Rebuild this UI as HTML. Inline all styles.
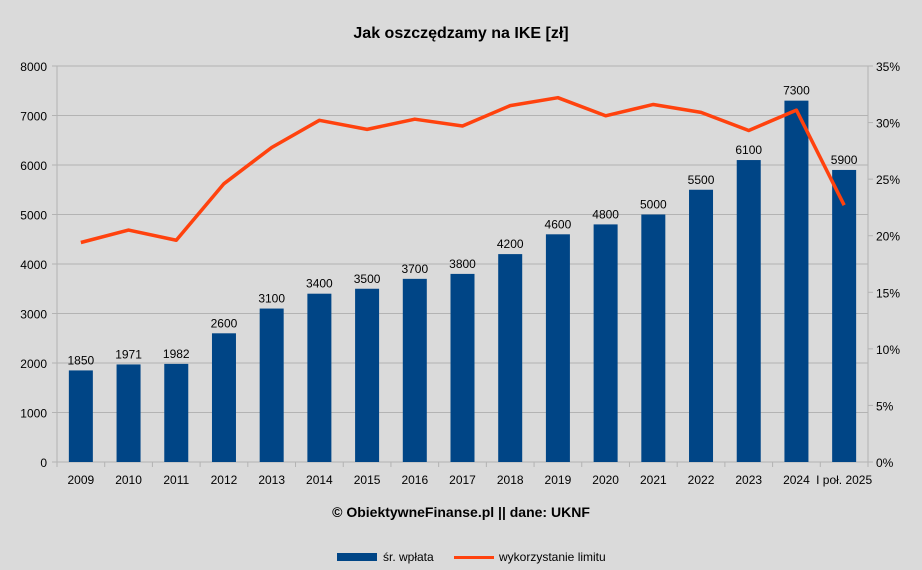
<!DOCTYPE html>
<html><head><meta charset="utf-8"><style>
body{margin:0;background:#dadada;}
svg{display:block;font-family:"Liberation Sans",sans-serif;}
</style></head><body>
<svg id="c" width="922" height="570" viewBox="0 0 922 570">
<rect width="922" height="570" fill="#dadada"/>
<text x="461" y="38" text-anchor="middle" font-size="16" font-weight="bold" fill="#000">Jak oszczędzamy na IKE [zł]</text>
<g id="grid"></g><g id="bars"></g><g id="line"></g><g id="axes"></g>
<text x="461" y="517" text-anchor="middle" font-size="14" font-weight="bold" fill="#000">© ObiektywneFinanse.pl || dane: UKNF</text>
<g>
<rect x="337" y="553" width="40" height="8" fill="#004586"/>
<text x="383" y="561" font-size="12">śr. wpłata</text>
<rect x="454" y="556" width="40" height="3" fill="#ff420e"/>
<text x="499" y="561" font-size="12">wykorzystanie limitu</text>
</g>
</svg>
<script>
const categories=["2009","2010","2011","2012","2013","2014","2015","2016","2017","2018","2019","2020","2021","2022","2023","2024","I poł. 2025"];
const payments=[1850,1971,1982,2600,3100,3400,3500,3700,3800,4200,4600,4800,5000,5500,6100,7300,5900];
const limitUse=[19.4,20.5,19.6,24.6,27.8,30.2,29.4,30.3,29.7,31.5,32.2,30.6,31.6,30.9,29.3,31.1,22.7];
const leftTicks=[0,1000,2000,3000,4000,5000,6000,7000,8000];
const rightTicks=[0,5,10,15,20,25,30,35];
const NS="http://www.w3.org/2000/svg";
const L=57,R=868,T=66,B=462;
const n=categories.length, step=(R-L)/n;
const xc=i=>L+step*(i+0.5);
const yL=v=>B-(v/8000)*(B-T);
const yR=v=>B-(v/35)*(B-T);
function mk(tag,attrs,parent,txt){const e=document.createElementNS(NS,tag);for(const k in attrs)e.setAttribute(k,attrs[k]);if(txt!==undefined)e.textContent=txt;document.getElementById(parent).appendChild(e);return e;}
leftTicks.forEach(v=>{
  const g=mk('line',{x1:L-5,x2:R,y1:yL(v),y2:yL(v),stroke:'#b3b3b3','stroke-width':1},'grid');
  
  
  const t=mk('text',{x:L-10,y:yL(v)+5,'text-anchor':'end','font-size':12},'axes',String(v));
  
  
});
rightTicks.forEach(v=>{
  const t=mk('text',{x:R+8,y:yR(v)+5,'font-size':12},'axes',v+'%');
  
  
  const k=mk('line',{x1:R,x2:R+5,y1:yR(v),y2:yR(v),stroke:'#b3b3b3'},'axes');
  
  
});
let a=mk('line',{x1:L,x2:L,y1:T,y2:B,stroke:'#b3b3b3'},'axes');


a=mk('line',{x1:R,x2:R,y1:T,y2:B,stroke:'#b3b3b3'},'axes');


for(let i=0;i<=n;i++){
  const k=mk('line',{x1:L+step*i,x2:L+step*i,y1:B,y2:B+5,stroke:'#b3b3b3'},'axes');
  
  
}
const bw=24;
payments.forEach((v,i)=>{
  const r=mk('rect',{x:xc(i)-bw/2,y:yL(v),width:bw,height:B-yL(v),fill:'#004586'},'bars');
  
  
  const t=mk('text',{x:xc(i),y:yL(v)-6,'text-anchor':'middle','font-size':12},'bars',String(v));
  
  
  const c=mk('text',{x:xc(i),y:B+22,'text-anchor':'middle','font-size':12},'axes',categories[i]);
  
  
});
const p=mk('polyline',{points:limitUse.map((v,i)=>xc(i)+','+yR(v)).join(' '),fill:'none',stroke:'#ff420e','stroke-width':3.5,'stroke-linejoin':'round'},'line');


</script>
</body></html>
